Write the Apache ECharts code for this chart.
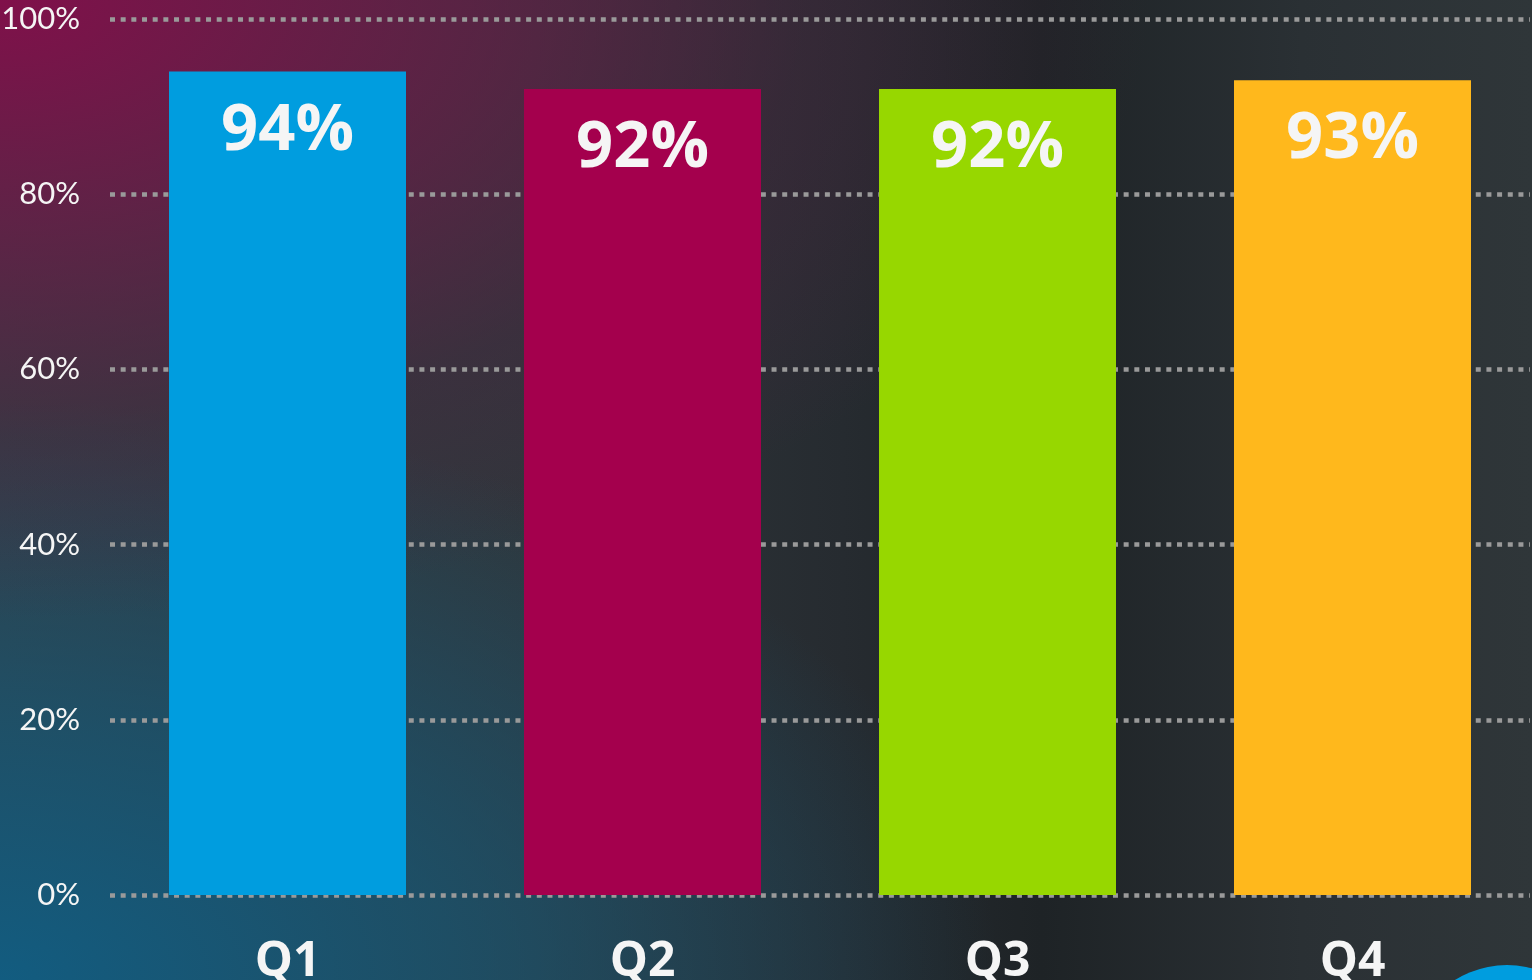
<!DOCTYPE html>
<html>
<head>
<meta charset="utf-8">
<script src="https://cdn.jsdelivr.net/npm/echarts@6/dist/echarts.min.js"></script>
<style>
html,body{margin:0;padding:0;width:1532px;height:980px;overflow:hidden;}
body{
  background:
    radial-gradient(ellipse 1150px 620px at 0px 0px, rgba(128,16,74,1) 0%, rgba(110,26,72,0.75) 35%, rgba(80,35,65,0.35) 70%, rgba(60,40,60,0) 100%),
    radial-gradient(ellipse 1000px 580px at 0px 980px, rgba(18,92,128,1) 0%, rgba(22,88,118,0.7) 45%, rgba(40,70,85,0) 100%),
    linear-gradient(to right, #343c42 0%, #2f363b 35%, #262b30 55%, #1e2326 68%, #2a3034 85%, #2f3639 100%);
}
#chart{width:1532px;height:980px;}
</style>
</head>
<body>
<div id="chart"></div>
<script>
const categories = ['Q1', 'Q2', 'Q3', 'Q4'];
const values = [94, 92, 92, 93];
const barColors = ['#009ddf', '#a4004d', '#97d700', '#ffb81c'];
const yTicks = [0, 20, 40, 60, 80, 100];

const chart = echarts.init(document.getElementById('chart'), null, {renderer: 'canvas'});
chart.setOption({
  backgroundColor: 'transparent',
  animation: false,
  grid: {left: 110, right: 2, top: 19, bottom: 85, containLabel: false, outerBoundsMode: 'none'},
  xAxis: {
    type: 'category',
    data: categories,
    axisLine: {show: false},
    axisTick: {show: false},
    axisLabel: {
      color: '#f5f5f5',
      fontFamily: 'Open Sans',
      fontWeight: 'bold',
      fontSize: 48,
      margin: 43
    }
  },
  yAxis: {
    type: 'value',
    min: 0, max: 100, interval: 20,
    axisLine: {show: false},
    axisTick: {show: false},
    axisLabel: {
      color: '#f5f5f5',
      fontFamily: 'Lato',
      fontSize: 31,
      margin: 30,
      formatter: v => yTicks.includes(v) ? v + '%' : ''
    },
    splitLine: {
      show: true,
      lineStyle: {color: '#9a9a9a', width: 4.5, type: [5, 5.67]}
    }
  },
  series: [{
    type: 'bar',
    data: values.map((v, i) => ({value: v, itemStyle: {color: barColors[i]}})),
    barWidth: 237,
    label: {
      show: true,
      position: 'insideTop',
      distance: 27,
      color: '#f5f5f5',
      fontFamily: 'Open Sans',
      fontWeight: 'bold',
      fontSize: 65,
      formatter: p => p.value + '%'
    }
  }],
  graphic: [{
    type: 'circle',
    shape: {cx: 1507, cy: 1063, r: 98},
    style: {fill: '#009ddf'},
    z: 100
  }]
});
</script>
</body>
</html>
